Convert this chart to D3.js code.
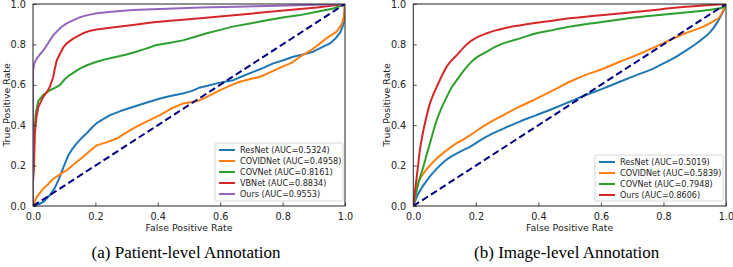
<!DOCTYPE html>
<html><head><meta charset="utf-8">
<script src="https://cdn.jsdelivr.net/npm/d3@7"></script>
<style>body{margin:0;background:#fff}svg{display:block}</style>
</head><body><svg id="c" width="733" height="267"></svg>
<script>
// ---------- data ----------
const tickValues = [0, 0.2, 0.4, 0.6, 0.8, 1.0];
const xLabel = "False Positive Rate";
const yLabel = "True Positive Rate";
const captions = ["(a) Patient-level Annotation", "(b) Image-level Annotation"];

const namesA = ["ResNet (AUC=0.5324)", "COVIDNet (AUC=0.4958)", "COVNet (AUC=0.8161)", "VBNet (AUC=0.8834)", "Ours (AUC=0.9553)"];
const namesB = ["ResNet (AUC=0.5019)", "COVIDNet (AUC=0.5839)", "COVNet (AUC=0.7948)", "Ours (AUC=0.8606)"];
const colorsA = ["#1f77b4", "#ff7f0e", "#2ca02c", "#d62728", "#9467bd"];
const colorsB = ["#1f77b4", "#ff7f0e", "#2ca02c", "#d62728"];

// Panel (a) curves [fpr, tpr]
const a_resnet = [[0,0],[0.02,0.01],[0.033,0.02],[0.054,0.053],[0.07,0.09],[0.081,0.127],[0.09,0.16],[0.097,0.19],[0.105,0.22],[0.113,0.25],[0.125,0.28],[0.14,0.31],[0.155,0.335],[0.172,0.36],[0.19,0.39],[0.204,0.41],[0.225,0.43],[0.247,0.45],[0.28,0.47],[0.32,0.49],[0.36,0.51],[0.407,0.532],[0.44,0.545],[0.48,0.557],[0.51,0.57],[0.535,0.587],[0.56,0.595],[0.589,0.607],[0.615,0.615],[0.642,0.623],[0.675,0.645],[0.706,0.664],[0.74,0.685],[0.77,0.706],[0.8,0.72],[0.834,0.739],[0.865,0.75],[0.898,0.764],[0.925,0.785],[0.952,0.805],[0.97,0.83],[0.985,0.86],[0.995,0.9],[1,1]];
const a_covidnet = [[0,0],[0.012,0.045],[0.033,0.086],[0.05,0.11],[0.065,0.135],[0.085,0.155],[0.108,0.177],[0.13,0.205],[0.16,0.243],[0.18,0.27],[0.204,0.3],[0.235,0.315],[0.268,0.334],[0.295,0.36],[0.32,0.383],[0.36,0.415],[0.407,0.45],[0.44,0.48],[0.48,0.507],[0.51,0.515],[0.535,0.524],[0.57,0.55],[0.6,0.574],[0.63,0.595],[0.663,0.615],[0.7,0.63],[0.728,0.64],[0.765,0.665],[0.8,0.69],[0.83,0.71],[0.856,0.739],[0.89,0.77],[0.92,0.805],[0.945,0.835],[0.973,0.863],[0.99,0.9],[0.998,0.95],[1,1]];
const a_covnet = [[0,0],[0,0.127],[0.002,0.3],[0.004,0.36],[0.009,0.46],[0.017,0.52],[0.033,0.55],[0.054,0.573],[0.07,0.585],[0.087,0.6],[0.1,0.625],[0.115,0.645],[0.13,0.66],[0.15,0.68],[0.175,0.698],[0.204,0.714],[0.235,0.727],[0.268,0.739],[0.3,0.75],[0.32,0.759],[0.36,0.778],[0.396,0.797],[0.44,0.808],[0.48,0.82],[0.52,0.838],[0.557,0.855],[0.6,0.872],[0.64,0.888],[0.7,0.905],[0.75,0.92],[0.8,0.933],[0.856,0.945],[0.91,0.962],[0.963,0.978],[1,1]];
const a_vbnet = [[0,0],[0,0.12],[0.003,0.19],[0.006,0.36],[0.011,0.44],[0.017,0.49],[0.033,0.54],[0.045,0.565],[0.054,0.59],[0.065,0.64],[0.07,0.68],[0.076,0.72],[0.087,0.755],[0.097,0.785],[0.108,0.805],[0.13,0.83],[0.16,0.855],[0.18,0.866],[0.204,0.874],[0.26,0.885],[0.32,0.896],[0.38,0.908],[0.43,0.916],[0.5,0.925],[0.59,0.937],[0.67,0.948],[0.75,0.96],[0.83,0.972],[0.91,0.983],[1,1]];
const a_ours = [[0,0],[0,0.668],[0.004,0.706],[0.012,0.73],[0.022,0.75],[0.033,0.77],[0.044,0.795],[0.054,0.82],[0.065,0.845],[0.076,0.863],[0.09,0.885],[0.108,0.904],[0.13,0.92],[0.15,0.934],[0.175,0.945],[0.204,0.954],[0.26,0.963],[0.32,0.97],[0.43,0.977],[0.535,0.983],[0.65,0.987],[0.75,0.99],[0.88,0.995],[1,1]];

// Panel (b) curves [fpr, tpr]
const b_resnet = [[0,0],[0.011,0.045],[0.032,0.102],[0.05,0.14],[0.075,0.185],[0.1,0.222],[0.128,0.251],[0.155,0.273],[0.181,0.293],[0.23,0.34],[0.288,0.383],[0.34,0.418],[0.394,0.45],[0.45,0.484],[0.5,0.516],[0.55,0.548],[0.608,0.582],[0.66,0.615],[0.714,0.648],[0.76,0.675],[0.8,0.706],[0.84,0.738],[0.874,0.772],[0.9,0.798],[0.927,0.83],[0.95,0.862],[0.97,0.904],[0.985,0.945],[0.993,0.97],[1,1]];
const b_covidnet = [[0,0],[0.011,0.094],[0.032,0.16],[0.05,0.195],[0.075,0.235],[0.1,0.268],[0.128,0.3],[0.155,0.325],[0.181,0.35],[0.23,0.4],[0.288,0.45],[0.34,0.492],[0.394,0.532],[0.45,0.575],[0.5,0.615],[0.55,0.648],[0.608,0.68],[0.66,0.714],[0.714,0.747],[0.77,0.785],[0.82,0.821],[0.87,0.855],[0.927,0.888],[0.96,0.915],[0.98,0.937],[1,1]];
const b_covnet = [[0,0],[0.011,0.078],[0.02,0.135],[0.032,0.193],[0.042,0.25],[0.053,0.309],[0.064,0.37],[0.075,0.425],[0.09,0.485],[0.107,0.54],[0.122,0.585],[0.139,0.623],[0.16,0.668],[0.181,0.706],[0.205,0.738],[0.235,0.764],[0.26,0.786],[0.288,0.805],[0.341,0.83],[0.394,0.855],[0.45,0.872],[0.5,0.888],[0.55,0.9],[0.608,0.912],[0.66,0.923],[0.714,0.934],[0.77,0.943],[0.82,0.95],[0.87,0.958],[0.927,0.967],[0.97,0.976],[0.99,0.983],[1,1]];
const b_ours = [[0,0],[0.005,0.07],[0.011,0.144],[0.016,0.21],[0.021,0.276],[0.028,0.34],[0.037,0.408],[0.045,0.46],[0.053,0.507],[0.064,0.552],[0.075,0.59],[0.09,0.64],[0.107,0.69],[0.122,0.72],[0.139,0.747],[0.16,0.783],[0.181,0.813],[0.205,0.836],[0.235,0.855],[0.26,0.868],[0.288,0.879],[0.34,0.894],[0.394,0.907],[0.45,0.918],[0.5,0.929],[0.55,0.937],[0.608,0.945],[0.66,0.953],[0.714,0.962],[0.77,0.97],[0.82,0.979],[0.87,0.986],[0.927,0.992],[1,1]];

const diagonal = [[0,0],[1,1]];

const seriesA = [a_resnet, a_covidnet, a_covnet, a_vbnet, a_ours];
const seriesB = [b_resnet, b_covidnet, b_covnet, b_ours];

// ---------- drawing ----------
const svg = d3.select("#c");
const FONT = "'DejaVu Sans', sans-serif";

const panels = [
  {id:"a", x0:33, x1:345, y0:206, y1:4, series:seriesA, names:namesA, colors:colorsA, smooth:false,
   legend:{x:215, y:143, w:128, h:58}, caption:captions[0], ylabX:10},
  {id:"b", x0:413.3, x1:726, y0:206, y1:4, series:seriesB, names:namesB, colors:colorsB, smooth:true,
   legend:{x:595, y:155, w:128, h:46}, caption:captions[1], ylabX:390}
];

panels.forEach(p => {
  const x = d3.scaleLinear().domain([0,1]).range([p.x0, p.x1]);
  const y = d3.scaleLinear().domain([0,1]).range([p.y0, p.y1]);
  const g = svg.append("g");

  g.append("clipPath").attr("id", "clip"+p.id).append("rect")
    .attr("x", p.x0).attr("y", p.y1).attr("width", p.x1-p.x0).attr("height", p.y0-p.y1);

  const line = d3.line().x(d => x(d[0])).y(d => y(d[1]))
    .curve(p.smooth ? d3.curveMonotoneX : d3.curveLinear);

  const plot = g.append("g").attr("clip-path", `url(#clip${p.id})`);
  p.series.forEach((s, i) => {
    plot.append("path").datum(s).attr("d", line)
      .attr("fill","none").attr("stroke", p.colors[i]).attr("stroke-width", 2)
      .attr("stroke-linejoin","round");
  });
  plot.append("path").datum(diagonal).attr("d", d3.line().x(d=>x(d[0])).y(d=>y(d[1])))
    .attr("fill","none").attr("stroke","#000080").attr("stroke-width",2)
    .attr("stroke-dasharray","7,3.5");

  // axes (ticks inside)
  const xAxis = g.append("g").attr("transform", `translate(0,${p.y0})`)
    .call(d3.axisBottom(x).tickValues(tickValues).tickFormat(d3.format(".1f")).tickSizeInner(-3.5).tickSizeOuter(0).tickPadding(7));
  const yAxis = g.append("g").attr("transform", `translate(${p.x0},0)`)
    .call(d3.axisLeft(y).tickValues(tickValues).tickFormat(d3.format(".1f")).tickSizeInner(-3.5).tickSizeOuter(0).tickPadding(7));
  [xAxis, yAxis].forEach(ax => {
    ax.select(".domain").remove();
    ax.selectAll("line").attr("stroke","#222").attr("stroke-width",0.8);
    ax.selectAll("text").attr("font-family", FONT).attr("font-size", 9.7).attr("fill","#222");
  });

  // spines
  g.append("rect").attr("x", p.x0).attr("y", p.y1).attr("width", p.x1-p.x0).attr("height", p.y0-p.y1)
    .attr("fill","none").attr("stroke","#222").attr("stroke-width",1);

  // axis labels
  g.append("text").attr("x", (p.x0+p.x1)/2).attr("y", 231).attr("text-anchor","middle")
    .attr("font-family", FONT).attr("font-size", 9.4).attr("fill","#222").text(xLabel);
  g.append("text").attr("transform", `translate(${p.ylabX},${(p.y0+p.y1)/2}) rotate(-90)`)
    .attr("text-anchor","middle").attr("font-family", FONT).attr("font-size", 9.4).attr("fill","#222").text(yLabel);

  // legend
  const L = p.legend;
  g.append("rect").attr("x", L.x).attr("y", L.y).attr("width", L.w).attr("height", L.h)
    .attr("rx", 2).attr("fill","#fff").attr("fill-opacity",0.85).attr("stroke","#ccc").attr("stroke-width",0.8);
  p.names.forEach((n, i) => {
    const cy = L.y + 7 + i*11;
    g.append("line").attr("x1", L.x+4).attr("x2", L.x+20).attr("y1", cy).attr("y2", cy)
      .attr("stroke", p.colors[i]).attr("stroke-width", 2);
    g.append("text").attr("x", L.x+25).attr("y", cy).attr("dy","0.35em")
      .attr("font-family", FONT).attr("font-size", 8.1).attr("fill","#222").text(n);
  });

  // caption
  g.append("text").attr("x", (p.x0+p.x1)/2 - 3).attr("y", 258).attr("text-anchor","middle")
    .attr("font-family","'Liberation Serif', 'Times New Roman', serif").attr("font-size", 17).attr("fill","#000")
    .text(p.caption);
});
</script></body></html>
